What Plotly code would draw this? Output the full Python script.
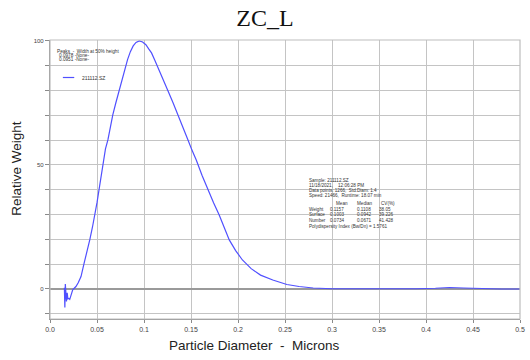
import plotly.graph_objects as go

# Particle size distribution, sample 211112.SZ
diameter_um = [
    0.0153, 0.0158, 0.0163, 0.0168, 0.0175, 0.0183, 0.0190, 0.0200, 0.0210,
    0.0220, 0.0230, 0.0240, 0.0250, 0.0262, 0.0276, 0.0300, 0.0330, 0.0363,
    0.0395, 0.0423, 0.0452, 0.0479, 0.0501, 0.0521, 0.0545, 0.0567, 0.0590,
    0.0616, 0.0642, 0.0668, 0.0700, 0.0732, 0.0765, 0.0795, 0.0825, 0.0855,
    0.0885, 0.0915, 0.0950, 0.0985, 0.1020, 0.1050, 0.1080, 0.1115, 0.1153,
    0.1205, 0.1258, 0.1310, 0.1363, 0.1415, 0.1468, 0.1510, 0.1556, 0.1618,
    0.1680, 0.1740, 0.1800, 0.1855, 0.1907, 0.1975, 0.2047, 0.2140, 0.2240,
    0.2370, 0.2520, 0.2650, 0.2800, 0.3000, 0.3300, 0.3600, 0.3900, 0.4100,
    0.4250, 0.4400, 0.4600, 0.4800, 0.5000,
]
relative_weight = [
    0.5, -7.5, 2.0, -3.0, -5.0, -1.5, -4.0, -3.8, -4.2,
    -3.0, -1.5, -0.5, 0.0, 0.3, 1.0, 2.5, 5.0, 10.4,
    15.0, 19.8, 25.0, 29.8, 35.0, 39.9, 46.0, 52.0, 56.5,
    60.1, 65.3, 70.2, 75.0, 79.6, 84.5, 89.0, 92.5, 95.7,
    98.0, 99.4, 100.0, 99.6, 98.5, 96.8, 95.2, 92.2, 89.0,
    84.3, 79.6, 75.0, 70.2, 65.2, 60.1, 56.0, 52.0, 45.8,
    39.9, 34.8, 29.8, 24.6, 19.8, 15.5, 11.7, 8.2, 5.6,
    3.6, 1.8, 1.0, 0.4, 0.1, 0.0, 0.0, 0.1, 0.3,
    0.6, 0.4, 0.1, 0.0, 0.0,
]

x_tick_values = [0.0, 0.05, 0.1, 0.15, 0.2, 0.25, 0.3, 0.35, 0.4, 0.45, 0.5]
x_tick_labels = ["0.0", "0.05", "0.1", "0.15", "0.2", "0.25", "0.3", "0.35", "0.4", "0.45", "0.5"]
y_tick_values = [0, 50, 100]
y_tick_labels = ["0", "50", "100"]

sample_name = "211112.SZ"
peak_lines = ["Peaks  -  Width at 50% height", "0.0978 -None-", "0.0951 -None-"]
info_lines = [
    "Sample: 211112.SZ",
    "11/18/2021,    12:06:28 PM",
    "Data points: 1266,  Std.Diam: 1.4",
    "Speed: 21466,  Runtime: 18.07 min",
]
stat_columns = ["Mean", "Median", "CV(%)"]
stat_rows = ["Weight", "Surface", "Number"]
stat_mean = ["0.1157", "0.1003", "0.0734"]
stat_median = ["0.1108", "0.0942", "0.0671"]
stat_cv = ["38.05", "39.226", "41.428"]
polydispersity = "Polydispersity Index (Bw/Dn) = 1.5761"

W, H = 530, 360
L, R, T, B = 50, 525, 40, 319  # plot area in pixels


def px(x):
    return (x - L) / (R - L)


def py(y):
    return (B - y) / (B - T)


SANS = "Liberation Sans, Arial, sans-serif"
LINE_BLUE = "#5050ff"
GRID = "#c4c4c4"

fig = go.Figure()
fig.add_trace(go.Scatter(
    x=diameter_um, y=relative_weight, mode="lines",
    line=dict(color=LINE_BLUE, width=1.2), name=sample_name, showlegend=False,
))

ann = []


def text(x, y, s, size):
    ann.append(dict(x=px(x), y=py(y), xref="paper", yref="paper", text=s,
                    showarrow=False, xanchor="left", yanchor="middle",
                    font=dict(family=SANS, size=size, color="#333")))


# peak summary and legend entry (top left)
for i, s in enumerate(peak_lines):
    text(55 if i == 0 else 56.7, 51 + i * 4.3, s, 4.7)
text(80, 77.5, sample_name, 5.0)

# statistics block
for i, s in enumerate(info_lines):
    text(310, [180.5, 185.6, 190.8, 196][i], s, 4.6)
for x0, s in zip([337, 358, 382], stat_columns):
    text(x0, 203, s, 4.6)
for i, name in enumerate(stat_rows):
    yy = 209 + i * 5.9
    text(310, yy, name, 4.6)
    text(331, yy, stat_mean[i], 4.6)
    text(358, yy, stat_median[i], 4.6)
    text(380, yy, stat_cv[i], 4.6)
text(310, 226.7, polydispersity, 4.6)

# axis titles
ann.append(dict(x=px(256.5), y=py(345), xref="paper", yref="paper",
                text="Particle Diameter  -  Microns", showarrow=False,
                font=dict(family=SANS, size=13.5, color="#222"),
                xanchor="center", yanchor="middle"))
ann.append(dict(x=px(16), y=py(168.5), xref="paper", yref="paper",
                text="Relative Weight", showarrow=False, textangle=-90,
                font=dict(family=SANS, size=13.5, color="#222"),
                xanchor="center", yanchor="middle"))

fig.update_layout(
    width=W, height=H,
    margin=dict(l=L, r=W - R, t=T, b=H - B),
    paper_bgcolor="white", plot_bgcolor="white",
    title=dict(text="ZC_L", x=0.5, xanchor="center", y=1 - 18 / H, yanchor="middle",
               font=dict(family="Liberation Serif, Times New Roman, serif", size=24, color="#111")),
    annotations=ann,
    shapes=[
        # legend sample line
        dict(type="line", xref="paper", yref="paper", x0=px(63), x1=px(74.5),
             y0=py(77.5), y1=py(77.5), line=dict(color=LINE_BLUE, width=1.2)),
        # plot frame (top / right)
        dict(type="rect", xref="paper", yref="paper", x0=0, x1=1, y0=0, y1=1,
             line=dict(color="#bdbdbd", width=1.2), fillcolor="rgba(0,0,0,0)",
             layer="above"),
    ],
    xaxis=dict(
        range=[0, 0.5], tickvals=x_tick_values, ticktext=x_tick_labels,
        showgrid=True, gridcolor=GRID, gridwidth=1.2,
        showline=True, linecolor="#8a8a8a", linewidth=1.2, mirror=False,
        ticks="outside", ticklen=3, tickcolor="#8a8a8a",
        tickfont=dict(family=SANS, size=7, color="#444"), zeroline=False,
    ),
    yaxis=dict(
        range=[-12.1, 100.4], tickvals=y_tick_values, ticktext=y_tick_labels,
        showgrid=True, gridcolor=GRID, gridwidth=1.2,
        showline=True, linecolor="#8a8a8a", linewidth=1.2,
        ticks="outside", ticklen=4, tickcolor="#8a8a8a",
        tickfont=dict(family=SANS, size=6, color="#444"),
        minor=dict(dtick=10, tick0=0, showgrid=True, gridcolor=GRID, gridwidth=1.2,
                   ticks="outside", ticklen=4, tickcolor="#8a8a8a"),
        zeroline=True, zerolinecolor="#9a9a9a", zerolinewidth=1.5,
    ),
)

fig.write_html("out.html")
